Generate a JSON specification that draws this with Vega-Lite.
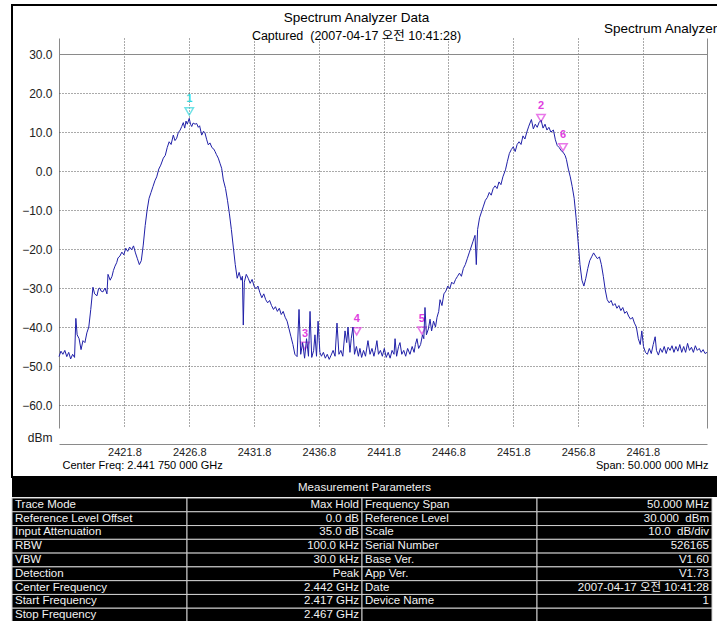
{
  "$schema": "https://vega.github.io/schema/vega-lite/v6.json",
  "background": "white",
  "padding": {"left": 11, "top": 4, "right": -3, "bottom": 0},
  "config": {"font": "Liberation Sans, Noto Sans CJK KR", "view": {"stroke": null}},
  "title": {"text": "Spectrum Analyzer", "anchor": "start", "frame": "group", "dx": 592, "offset": -31, "fontSize": 13.5, "fontWeight": "normal", "color": "#000000"},
  "datasets": {
    "trace": [
      {"f":2416.75,"p":-47.6},{"f":2416.9,"p":-46.2},{"f":2417.05,"p":-47.0},{"f":2417.2,"p":-46.0},{"f":2417.35,"p":-47.6},{"f":2417.5,"p":-46.5},{"f":2417.65,"p":-48.2},{"f":2417.8,"p":-47.0},{"f":2417.95,"p":-47.8},
      {"f":2418.05,"p":-37.8},{"f":2418.15,"p":-42.0},{"f":2418.3,"p":-43.0},{"f":2418.45,"p":-45.8},{"f":2418.6,"p":-43.5},{"f":2418.75,"p":-44.0},{"f":2418.9,"p":-41.5},{"f":2419.05,"p":-40.0},{"f":2419.2,"p":-35.5},{"f":2419.37,"p":-29.8},{"f":2419.5,"p":-31.5},{"f":2419.68,"p":-32.0},{"f":2419.8,"p":-30.2},{"f":2419.9,"p":-30.0},{"f":2420.0,"p":-30.8},{"f":2420.14,"p":-31.0},{"f":2420.3,"p":-30.0},{"f":2420.45,"p":-31.5},{"f":2420.53,"p":-26.5},{"f":2420.7,"p":-28.0},{"f":2420.84,"p":-27.0},{"f":2420.95,"p":-25.5},{"f":2421.07,"p":-24.4},{"f":2421.2,"p":-23.5},{"f":2421.3,"p":-22.3},
      {"f":2421.45,"p":-21.8},{"f":2421.6,"p":-20.8},{"f":2421.75,"p":-21.5},{"f":2421.9,"p":-19.8},{"f":2422.05,"p":-20.6},{"f":2422.2,"p":-19.5},{"f":2422.35,"p":-20.2},{"f":2422.5,"p":-19.2},{"f":2422.65,"p":-21.0},{"f":2422.8,"p":-22.5},{"f":2422.95,"p":-24.0},{"f":2423.1,"p":-23.0},{"f":2423.25,"p":-19.0},
      {"f":2423.4,"p":-14.0},{"f":2423.55,"p":-10.0},{"f":2423.7,"p":-7.0},{"f":2423.85,"p":-5.5},{"f":2424.0,"p":-4.0},{"f":2424.15,"p":-2.5},{"f":2424.29,"p":-1.5},{"f":2424.45,"p":0.5},{"f":2424.6,"p":1.5},{"f":2424.8,"p":3.3},{"f":2424.95,"p":4.0},{"f":2425.1,"p":6.0},{"f":2425.25,"p":7.5},{"f":2425.4,"p":6.8},{"f":2425.57,"p":9.2},{"f":2425.7,"p":7.8},{"f":2425.83,"p":8.4},{"f":2425.95,"p":9.8},{"f":2426.1,"p":10.5},{"f":2426.22,"p":11.4},{"f":2426.34,"p":12.4},{"f":2426.45,"p":11.0},{"f":2426.55,"p":12.8},{"f":2426.65,"p":12.0},{"f":2426.8,"p":13.5},{"f":2426.9,"p":12.0},{"f":2426.99,"p":11.4},{"f":2427.1,"p":12.3},{"f":2427.25,"p":12.0},{"f":2427.37,"p":12.2},{"f":2427.5,"p":11.2},{"f":2427.6,"p":11.6},{"f":2427.76,"p":9.2},{"f":2427.9,"p":10.2},{"f":2428.01,"p":9.8},{"f":2428.15,"p":8.0},{"f":2428.27,"p":6.7},{"f":2428.4,"p":7.2},{"f":2428.55,"p":6.0},{"f":2428.7,"p":5.6},{"f":2428.79,"p":5.0},{"f":2428.9,"p":4.2},{"f":2429.04,"p":3.3},{"f":2429.17,"p":2.0},{"f":2429.3,"p":0.7},{"f":2429.43,"p":-2.3},{"f":2429.6,"p":-4.5},{"f":2429.75,"p":-7.5},{"f":2429.9,"p":-11.0},{"f":2430.05,"p":-15.0},{"f":2430.2,"p":-19.5},{"f":2430.35,"p":-24.0},{"f":2430.5,"p":-27.5},{"f":2430.65,"p":-26.0},{"f":2430.8,"p":-28.0},{"f":2430.9,"p":-27.0},{"f":2430.97,"p":-39.5},{"f":2431.05,"p":-28.5},{"f":2431.2,"p":-26.5},{"f":2431.35,"p":-27.5},{"f":2431.5,"p":-28.8},{"f":2431.65,"p":-27.8},{"f":2431.8,"p":-29.5},{"f":2431.95,"p":-30.2},{"f":2432.1,"p":-29.5},{"f":2432.25,"p":-31.2},{"f":2432.4,"p":-32.5},{"f":2432.55,"p":-31.5},{"f":2432.7,"p":-33.0},{"f":2432.85,"p":-33.8},{"f":2433.0,"p":-33.2},{"f":2433.15,"p":-34.5},{"f":2433.3,"p":-35.5},{"f":2433.45,"p":-34.8},{"f":2433.6,"p":-36.0},{"f":2433.75,"p":-35.2},{"f":2433.9,"p":-36.8},{"f":2434.05,"p":-36.0},{"f":2434.2,"p":-37.5},{"f":2434.35,"p":-38.5},{"f":2434.5,"p":-40.5},{"f":2434.65,"p":-42.5},{"f":2434.8,"p":-44.5},
      {"f":2434.95,"p":-47.0},{"f":2435.12,"p":-47.6},{"f":2435.27,"p":-35.5},{"f":2435.4,"p":-47.0},{"f":2435.55,"p":-44.0},{"f":2435.7,"p":-48.0},{"f":2435.85,"p":-43.0},{"f":2436.0,"p":-47.5},{"f":2436.12,"p":-36.0},{"f":2436.25,"p":-47.8},{"f":2436.4,"p":-46.0},{"f":2436.5,"p":-42.0},{"f":2436.62,"p":-47.5},{"f":2436.74,"p":-38.5},{"f":2436.88,"p":-46.5},{"f":2437.0,"p":-47.5},{"f":2437.15,"p":-46.5},{"f":2437.3,"p":-48.0},{"f":2437.45,"p":-47.0},{"f":2437.6,"p":-48.3},{"f":2437.75,"p":-47.2},{"f":2437.9,"p":-46.0},{"f":2438.05,"p":-47.5},{"f":2438.2,"p":-39.0},{"f":2438.35,"p":-47.0},{"f":2438.5,"p":-46.0},{"f":2438.65,"p":-47.5},{"f":2438.82,"p":-41.0},{"f":2438.95,"p":-44.0},{"f":2439.05,"p":-40.0},{"f":2439.2,"p":-46.5},{"f":2439.3,"p":-43.0},{"f":2439.43,"p":-40.0},{"f":2439.55,"p":-47.0},{"f":2439.7,"p":-45.0},{"f":2439.85,"p":-47.5},{"f":2439.97,"p":-45.5},{"f":2440.1,"p":-47.8},{"f":2440.25,"p":-46.0},{"f":2440.4,"p":-47.5},{"f":2440.59,"p":-43.5},{"f":2440.75,"p":-47.0},{"f":2440.9,"p":-45.5},{"f":2441.05,"p":-47.5},{"f":2441.15,"p":-46.0},{"f":2441.28,"p":-43.5},{"f":2441.4,"p":-47.0},{"f":2441.55,"p":-46.0},{"f":2441.7,"p":-47.5},{"f":2441.85,"p":-45.5},{"f":2442.0,"p":-47.8},{"f":2442.15,"p":-46.5},{"f":2442.3,"p":-48.0},{"f":2442.45,"p":-46.0},{"f":2442.6,"p":-47.0},{"f":2442.68,"p":-43.0},{"f":2442.8,"p":-47.5},{"f":2442.95,"p":-45.0},{"f":2443.06,"p":-44.0},{"f":2443.2,"p":-47.0},{"f":2443.35,"p":-46.0},{"f":2443.5,"p":-47.5},{"f":2443.65,"p":-45.5},{"f":2443.83,"p":-47.0},{"f":2444.0,"p":-45.0},{"f":2444.15,"p":-46.5},{"f":2444.25,"p":-44.5},{"f":2444.37,"p":-43.0},{"f":2444.5,"p":-45.5},{"f":2444.65,"p":-44.5},{"f":2444.8,"p":-42.0},{"f":2444.9,"p":-43.0},{"f":2444.99,"p":-35.0},{"f":2445.1,"p":-42.0},{"f":2445.25,"p":-40.5},{"f":2445.38,"p":-38.0},{"f":2445.5,"p":-41.0},{"f":2445.65,"p":-38.5},{"f":2445.8,"p":-40.0},{"f":2445.92,"p":-37.5},{"f":2446.05,"p":-36.0},
      {"f":2446.15,"p":-33.0},{"f":2446.3,"p":-34.5},{"f":2446.45,"p":-31.5},{"f":2446.6,"p":-30.8},{"f":2446.75,"p":-29.5},{"f":2446.9,"p":-30.2},{"f":2447.05,"p":-28.5},{"f":2447.2,"p":-29.0},{"f":2447.35,"p":-27.8},{"f":2447.5,"p":-27.0},{"f":2447.65,"p":-26.2},{"f":2447.8,"p":-27.0},{"f":2447.95,"p":-25.0},{"f":2448.1,"p":-24.0},{"f":2448.25,"p":-22.5},{"f":2448.4,"p":-21.0},{"f":2448.55,"p":-19.5},{"f":2448.7,"p":-18.0},{"f":2448.85,"p":-16.5},{"f":2448.95,"p":-24.0},{"f":2449.05,"p":-15.0},{"f":2449.2,"p":-12.0},{"f":2449.35,"p":-10.5},{"f":2449.5,"p":-9.0},{"f":2449.65,"p":-7.5},{"f":2449.8,"p":-6.8},{"f":2449.95,"p":-5.5},{"f":2450.1,"p":-6.2},{"f":2450.25,"p":-4.5},{"f":2450.4,"p":-3.8},{"f":2450.55,"p":-4.5},{"f":2450.7,"p":-2.8},{"f":2450.85,"p":-3.5},{"f":2451.0,"p":-1.5},{"f":2451.2,"p":0.3},{"f":2451.35,"p":2.5},{"f":2451.5,"p":4.5},{"f":2451.65,"p":5.5},{"f":2451.8,"p":6.2},{"f":2451.95,"p":5.0},{"f":2452.1,"p":6.8},{"f":2452.25,"p":7.5},{"f":2452.4,"p":6.8},{"f":2452.55,"p":9.0},{"f":2452.7,"p":8.2},{"f":2452.85,"p":10.0},{"f":2453.0,"p":11.5},{"f":2453.2,"p":13.2},{"f":2453.35,"p":10.8},{"f":2453.5,"p":12.0},{"f":2453.65,"p":11.2},{"f":2453.8,"p":12.5},{"f":2453.95,"p":13.0},{"f":2454.1,"p":11.0},{"f":2454.25,"p":12.0},{"f":2454.4,"p":10.5},{"f":2454.55,"p":11.2},{"f":2454.7,"p":10.0},{"f":2454.9,"p":10.5},{"f":2455.05,"p":8.0},{"f":2455.2,"p":6.5},{"f":2455.35,"p":6.0},{"f":2455.5,"p":5.2},{"f":2455.65,"p":4.8},{"f":2455.8,"p":4.0},
      {"f":2455.9,"p":3.0},{"f":2456.05,"p":0.5},{"f":2456.2,"p":-1.5},{"f":2456.35,"p":-4.0},{"f":2456.5,"p":-7.0},{"f":2456.65,"p":-12.0},{"f":2456.8,"p":-18.0},{"f":2456.95,"p":-24.0},{"f":2457.1,"p":-28.0},{"f":2457.25,"p":-29.5},{"f":2457.4,"p":-27.5},{"f":2457.55,"p":-25.0},{"f":2457.7,"p":-23.0},{"f":2457.85,"p":-22.0},{"f":2458.0,"p":-21.0},{"f":2458.15,"p":-21.8},{"f":2458.3,"p":-22.5},{"f":2458.45,"p":-22.0},{"f":2458.6,"p":-24.0},{"f":2458.75,"p":-27.0},{"f":2458.9,"p":-30.5},{"f":2459.05,"p":-33.0},{"f":2459.2,"p":-33.8},{"f":2459.35,"p":-33.2},{"f":2459.5,"p":-34.5},{"f":2459.65,"p":-34.0},{"f":2459.8,"p":-35.2},{"f":2459.95,"p":-34.5},{"f":2460.1,"p":-35.8},{"f":2460.25,"p":-35.0},{"f":2460.4,"p":-36.5},{"f":2460.55,"p":-36.0},{"f":2460.7,"p":-37.2},{"f":2460.85,"p":-38.0},{"f":2461.0,"p":-37.5},{"f":2461.15,"p":-39.0},{"f":2461.3,"p":-40.0},{"f":2461.45,"p":-43.0},{"f":2461.6,"p":-44.5},{"f":2461.72,"p":-41.0},{"f":2461.85,"p":-45.0},{"f":2462.0,"p":-46.5},
      {"f":2462.15,"p":-47.0},{"f":2462.3,"p":-45.5},{"f":2462.45,"p":-46.8},{"f":2462.6,"p":-44.5},{"f":2462.75,"p":-42.5},{"f":2462.85,"p":-46.0},{"f":2463.0,"p":-47.2},{"f":2463.15,"p":-45.5},{"f":2463.3,"p":-46.5},{"f":2463.45,"p":-45.0},{"f":2463.6,"p":-46.8},{"f":2463.75,"p":-45.2},{"f":2463.9,"p":-46.0},{"f":2464.05,"p":-44.8},{"f":2464.2,"p":-46.5},{"f":2464.35,"p":-45.0},{"f":2464.5,"p":-46.2},{"f":2464.65,"p":-44.5},{"f":2464.8,"p":-46.5},{"f":2464.95,"p":-45.0},{"f":2465.1,"p":-46.5},{"f":2465.25,"p":-44.2},{"f":2465.4,"p":-46.0},{"f":2465.55,"p":-45.2},{"f":2465.7,"p":-46.5},{"f":2465.85,"p":-44.8},{"f":2466.0,"p":-46.0},{"f":2466.15,"p":-45.5},{"f":2466.3,"p":-46.5},{"f":2466.45,"p":-45.8},{"f":2466.6,"p":-46.8},{"f":2466.75,"p":-46.5}
    ],
    "markers": [
      {"id":"1","f":2426.8,"p":14.0},
      {"id":"2","f":2453.94,"p":12.3},
      {"id":"3","f":2435.73,"p":-46.1},
      {"id":"4","f":2439.72,"p":-42.4},
      {"id":"5","f":2444.75,"p":-42.2},
      {"id":"6","f":2455.64,"p":4.8}
    ],
    "params": [
      {"row":1,"c1":"Trace Mode","c2":"Max Hold","c3":"Frequency Span","c4":"50.000 MHz"},
      {"row":2,"c1":"Reference Level Offset","c2":"0.0 dB","c3":"Reference Level","c4":"30.000\u00a0 dBm"},
      {"row":3,"c1":"Input Attenuation","c2":"35.0 dB","c3":"Scale","c4":"10.0\u00a0 dB/div"},
      {"row":4,"c1":"RBW","c2":"100.0 kHz","c3":"Serial Number","c4":"526165"},
      {"row":5,"c1":"VBW","c2":"30.0 kHz","c3":"Base Ver.","c4":"V1.60"},
      {"row":6,"c1":"Detection","c2":"Peak","c3":"App Ver.","c4":"V1.73"},
      {"row":7,"c1":"Center Frequency","c2":"2.442 GHz","c3":"Date","c4":"2007-04-17 오전 10:41:28"},
      {"row":8,"c1":"Start Frequency","c2":"2.417 GHz","c3":"Device Name","c4":"1"},
      {"row":9,"c1":"Stop Frequency","c2":"2.467 GHz","c3":"","c4":""}
    ]
  },
  "spacing": 0,
  "vconcat": [
    {
      "width": 707,
      "height": 472,
      "view": {"stroke": "#000000", "strokeWidth": 2},
      "title": {
        "text": "Spectrum Analyzer Data",
        "subtitle": "Captured\u00a0 (2007-04-17 오전 10:41:28)",
        "fontSize": 13.5,
        "fontWeight": "normal",
        "color": "#000000",
        "subtitleFontSize": 12.5,
        "subtitleColor": "#000000",
        "subtitlePadding": 5,
        "anchor": "middle",
        "frame": "group",
        "dx": -9,
        "offset": -37
      },
      "resolve": {"axis": {"x": "independent"}},
      "encoding": {
        "y": {
          "field": "p", "type": "quantitative",
          "scale": {"domain": [-70, 30], "range": [439, 49], "nice": false, "zero": false},
          "axis": {
            "values": [-70, -60, -50, -40, -30, -20, -10, 0, 10, 20, 30],
            "labelExpr": "datum.value == -70 ? 'dBm' : format(datum.value, '.1f')",
            "offset": -47,
            "grid": true,
            "gridDash": {"condition": {"test": "datum.value == -70 || datum.value == 30", "value": []}, "value": [1, 2]},
            "gridColor": {"condition": {"test": "datum.value == -70 || datum.value == 30", "value": "#8a8a8a"}, "value": "#555555"},
            "gridWidth": 1,
            "ticks": false, "domain": false, "labelPadding": 7, "labelFontSize": 12, "labelColor": "#222222",
            "title": null, "labelOverlap": false,
            "labelOffset": {"condition": {"test": "datum.value == -70", "value": -7}, "value": 0}
          }
        }
      },
      "layer": [
        {
          "data": {"name": "markers"},
          "mark": {"type": "point", "shape": "triangle-down", "size": 70, "filled": false, "strokeWidth": 1.5, "yOffset": -5},
          "encoding": {
            "x": {
              "field": "f", "type": "quantitative",
              "scale": {"domain": [2416.75, 2466.75], "range": [47, 695], "nice": false, "zero": false},
              "axis": {
                "orient": "bottom", "offset": -33, "labels": false, "ticks": false, "domain": false, "grid": false,
                "title": "Span: 50.000 000 MHz", "titleX": 696, "titleY": 21, "titleAlign": "right",
                "titleBaseline": "middle", "titleFontSize": 11, "titleFontWeight": "normal", "titleColor": "#000000"
              }
            },
            "color": {"field": "id", "type": "nominal", "legend": null,
              "scale": {"domain": ["1", "2", "3", "4", "5", "6"], "range": ["#33d6dc", "#e040e0", "#e040e0", "#e040e0", "#e040e0", "#e040e0"]}}
          }
        },
        {
          "data": {"name": "markers"},
          "mark": {"type": "text", "fontSize": 11, "fontWeight": "bold", "dy": -17, "baseline": "middle"},
          "encoding": {
            "x": {"field": "f", "type": "quantitative", "scale": {"domain": [2416.75, 2466.75], "range": [47, 695], "nice": false, "zero": false}, "axis": null},
            "text": {"field": "id"},
            "color": {"field": "id", "type": "nominal", "legend": null}
          }
        },
        {
          "data": {"name": "trace"},
          "mark": {"type": "line", "color": "#2020a8", "strokeWidth": 1},
          "encoding": {
            "x": {
              "field": "f", "type": "quantitative",
              "scale": {"domain": [2416.75, 2466.75], "range": [47, 695], "nice": false, "zero": false},
              "axis": {
                "orient": "bottom", "offset": -33,
                "values": [2416.75, 2421.8, 2426.8, 2431.8, 2436.8, 2441.8, 2446.8, 2451.8, 2456.8, 2461.8, 2466.75],
                "labelExpr": "(datum.value < 2417 || datum.value > 2466) ? '' : format(datum.value, '.1f')",
                "grid": true,
                "gridDash": {"condition": {"test": "datum.value < 2417 || datum.value > 2466", "value": []}, "value": [1, 2]},
                "gridColor": {"condition": {"test": "datum.value < 2417 || datum.value > 2466", "value": "#8a8a8a"}, "value": "#555555"},
                "gridWidth": 1,
                "ticks": false, "domain": false, "labelPadding": 2, "labelFontSize": 11, "labelColor": "#222222",
                "labelFlush": false, "labelOverlap": false,
                "title": "Center Freq: 2.441 750 000 GHz", "titleX": 50, "titleY": 21, "titleAlign": "left",
                "titleBaseline": "middle", "titleFontSize": 11, "titleFontWeight": "normal", "titleColor": "#000000"
              }
            }
          }
        }
      ]
    },
    {
      "spacing": 0,
      "vconcat": [
        {
          "width": 705,
          "height": 19,
          "view": {"fill": "#000000", "stroke": null},
          "data": {"values": [{"h": "Measurement Parameters"}]},
          "mark": {"type": "text", "color": "#f0f0f0", "fontSize": 11.5, "baseline": "middle"},
          "encoding": {"text": {"field": "h"}}
        },
        {
          "width": 700,
          "height": 124,
          "view": {"fill": "#000000", "stroke": null},
          "data": {"name": "params"},
          "transform": [{"fold": ["c1", "c2", "c3", "c4"], "as": ["col", "txt"]}],
          "encoding": {
            "y": {"field": "row", "type": "ordinal", "axis": null, "scale": {"paddingInner": 0, "paddingOuter": 0}},
            "x": {"field": "col", "type": "nominal", "axis": null, "scale": {"paddingInner": 0, "paddingOuter": 0}}
          },
          "layer": [
            {"mark": {"type": "rect", "fill": "#000000", "stroke": "#cfcfcf", "strokeWidth": 1}},
            {
              "transform": [{"filter": "datum.col == 'c1' || datum.col == 'c3'"}],
              "mark": {"type": "text", "align": "left", "baseline": "middle", "dx": 3, "color": "#f2f2f2", "fontSize": 11.5},
              "encoding": {"x": {"field": "col", "type": "nominal", "bandPosition": 0}, "text": {"field": "txt"}}
            },
            {
              "transform": [{"filter": "datum.col == 'c2' || datum.col == 'c4'"}],
              "mark": {"type": "text", "align": "right", "baseline": "middle", "dx": -3, "color": "#f2f2f2", "fontSize": 11.5},
              "encoding": {"x": {"field": "col", "type": "nominal", "bandPosition": 1}, "text": {"field": "txt"}}
            }
          ]
        }
      ]
    }
  ]
}
